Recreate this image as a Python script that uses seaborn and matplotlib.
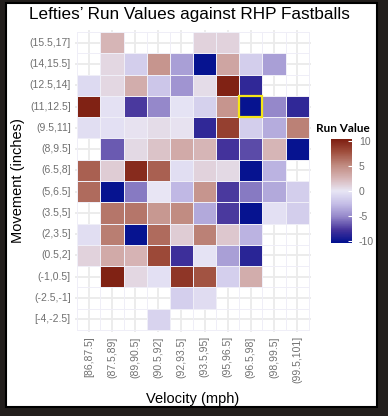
import numpy as np
import pandas as pd
import matplotlib
matplotlib.use("Agg")
import matplotlib.pyplot as plt
from matplotlib.colors import LinearSegmentedColormap
from matplotlib.patches import Rectangle
import seaborn as sns

nan = np.nan
velocity_bins = ["[86,87.5]", "(87.5,89]", "(89,90.5]", "(90.5,92]", "(92,93.5]",
                 "(93.5,95]", "(95,96.5]", "(96.5,98]", "(98,99.5]", "(99.5,101]"]
movement_bins = ["(15.5,17]", "(14,15.5]", "(12.5,14]", "(11,12.5]", "(9.5,11]", "(8,9.5]",
                 "(6.5,8]", "(5,6.5]", "(3.5,5]", "(2,3.5]", "(0.5,2]", "(-1,0.5]",
                 "(-2.5,-1]", "[-4,-2.5]"]

rv_15_5_17 = [nan, 2.5, nan, nan, nan, 1.0, 1.0, nan, nan, nan]
rv_14_15_5 = [nan, 0.8, -1.5, 4.5, -4.0, -10.0, 3.5, -1.5, -4.0, nan]
rv_12_5_14 = [-0.8, 0.8, 3.0, -2.0, -4.5, 0.5, 10.0, -8.5, nan, nan]
rv_11_12_5 = [10.0, -0.3, -7.5, -5.0, -0.2, -1.3, 4.5, -10.0, -5.0, -8.5]
rv_9_5_11 = [-0.5, -0.4, 0.2, 0.5, 0.2, -8.5, 8.5, -1.5, -3.3, 5.5]
rv_8_9_5 = [nan, -6.5, 0.7, 1.8, 3.2, 2.5, -7.8, -7.0, 2.5, -10.0]
rv_6_5_8 = [7.0, 1.3, 9.5, 7.0, -0.5, 1.0, 0.7, -10.0, -3.0, nan]
rv_5_6_5 = [6.5, -10.0, -5.5, 0.0, -2.8, 4.5, -7.5, -5.5, -3.5, -1.5]
rv_3_5_5 = [nan, 6.0, 6.0, 4.3, 5.0, -3.5, -7.5, -10.0, -0.4, -1.5]
rv_2_3_5 = [-0.5, 5.7, -10.0, 6.5, 1.3, 5.5, 1.6, -3.0, nan, nan]
rv_0_5_2 = [1.0, 3.2, 2.6, 8.0, -8.0, -0.2, -4.0, -8.7, nan, nan]
rv_m1_0_5 = [nan, 10.0, 0.8, -0.4, 9.0, 7.5, -1.4, 3.0, nan, nan]
rv_m2_5_m1 = [nan, nan, nan, nan, -1.4, -0.6, nan, nan, nan, nan]
rv_m4_m2_5 = [nan, nan, nan, -1.2, nan, nan, nan, nan, nan, nan]

highlight_velocity = "(96.5,98]"
highlight_movement = "(11,12.5]"

rows = [rv_15_5_17, rv_14_15_5, rv_12_5_14, rv_11_12_5, rv_9_5_11, rv_8_9_5, rv_6_5_8,
        rv_5_6_5, rv_3_5_5, rv_2_3_5, rv_0_5_2, rv_m1_0_5, rv_m2_5_m1, rv_m4_m2_5]
df = pd.DataFrame(rows, index=movement_bins, columns=velocity_bins)

cmap = LinearSegmentedColormap.from_list("rv", [
    (0.0, "#00108f"), (0.125, "#45339b"), (0.25, "#9386c9"), (0.375, "#c4bde6"),
    (0.5, "#e8e6f5"), (0.625, "#d6b4b5"), (0.75, "#c08a80"), (0.875, "#a04f3e"),
    (1.0, "#7d1d10")])

W, H = 388, 416
fig = plt.figure(figsize=(W / 100, H / 100), dpi=100, facecolor="#231f1d")
fig.patches.append(Rectangle((6 / W, 1 - 407 / H), (377 - 6) / W, (407 - 3) / H,
                             transform=fig.transFigure, facecolor="white",
                             edgecolor="black", lw=1.5, zorder=-10))

ax = fig.add_axes([75 / W, 1 - 332 / H, 236 / W, 302 / H])
ax.set_facecolor("white")
cax = fig.add_axes([331 / W, 1 - 243 / H, 21 / W, 104 / H])

vlim = 10.3
sns.heatmap(df, ax=ax, cmap=cmap, vmin=-vlim, vmax=vlim, cbar_ax=cax,
            linewidths=0.5, linecolor="#efeef7", square=False)

ax.set_xlim(-0.1, len(velocity_bins) + 0.1)
ax.set_ylim(len(movement_bins) + 0.1, -0.1)
ax.set_axisbelow(True)
ax.grid(True, color="#ebebeb", lw=1.3)
for s in ax.spines.values():
    s.set_visible(False)
ax.tick_params(length=0, pad=3)
ax.set_xticks(np.arange(len(velocity_bins)) + 0.5)
ax.set_xticklabels(velocity_bins, rotation=90, fontsize=7.5, color="#707070",
                   family="Liberation Sans")
ax.set_yticks(np.arange(len(movement_bins)) + 0.5)
ax.set_yticklabels(movement_bins, rotation=0, fontsize=7.5, color="#707070",
                   family="Liberation Sans")
ax.set_xlabel("Velocity (mph)", fontsize=10.5, family="Liberation Sans", labelpad=6)
ax.set_ylabel("Movement (inches)", fontsize=10.5, family="Liberation Sans", labelpad=3)

hx = velocity_bins.index(highlight_velocity)
hy = movement_bins.index(highlight_movement)
ax.add_patch(Rectangle((hx, hy), 1, 1, fill=False, edgecolor="#f5e616", lw=1.6, zorder=5))

cax.set_ylim(-vlim, vlim)
cax.set_yticks([-10, -5, 0, 5, 10])
cax.set_yticklabels(["-10", "-5", "0", "5", "10"])
cax.tick_params(axis="y", direction="in", length=3, color="white", labelsize=7.5,
                labelcolor="#707070", pad=5)
for lab in cax.get_yticklabels():
    lab.set_family("Liberation Sans")
for s in cax.spines.values():
    s.set_visible(False)

fig.text(343 / W, 1 - 128 / H, "Run Value", ha="center", va="center", fontsize=8.5,
         fontweight="bold", family="Lato")
fig.text(189 / W, 1 - 15 / H, "Lefties\u2019 Run Values against RHP Fastballs",
         ha="center", va="center", fontsize=12.3, family="Liberation Sans")

fig.savefig("out.png", dpi=100, facecolor=fig.get_facecolor())
